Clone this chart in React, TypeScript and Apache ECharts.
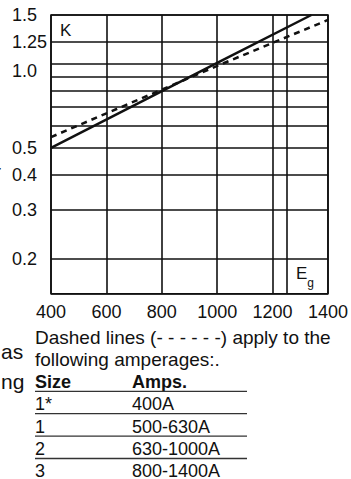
import React, { useEffect, useRef } from 'react';
import * as echarts from 'echarts';

// ---- data ----
const xGridValues = [400, 600, 800, 1000, 1200, 1250, 1400];
const xLabelValues = [400, 600, 800, 1000, 1200, 1400];
const yGridValues = [0.15, 0.2, 0.3, 0.4, 0.5, 0.6, 0.7, 0.8, 0.9, 1.0, 1.2, 1.5];
const yLabelValues = [0.2, 0.3, 0.4, 0.5, 1.0, 1.2, 1.5];
const yLabelTexts = ['0.2', '0.3', '0.4', '0.5', '1.0', '1.25', '1.5'];

const solidX = [400, 1000, 1340];
const solidK = [0.5, 1.01, 1.5];
const dashedX = [400, 1000, 1400];
const dashedK = [0.547, 0.985, 1.44];

const noteLines = ['Dashed lines (- - - - - -) apply to the', 'following amperages:.'];
const tableHeader = ['Size', 'Amps.'];
const sizes = ['1*', '1', '2', '3'];
const amps = ['400A', '500-630A', '630-1000A', '800-1400A'];
const strayTexts = ['r', 'as', 'ng'];

const FONT = '"Liberation Sans", Arial, Helvetica, sans-serif';
const INK = '#111';

export default function App() {
  const ref = useRef<HTMLDivElement>(null);

  useEffect(() => {
    if (!ref.current) return;
    const chart = echarts.init(ref.current, undefined, { renderer: 'svg' });

    const txt = (text: string, x: number, y: number, extra: any = {}) => ({
      type: 'text',
      x,
      y,
      silent: true,
      style: {
        text,
        fill: INK,
        fontFamily: FONT,
        fontSize: 18,
        lineHeight: 16,
        verticalAlign: 'middle',
        align: 'left',
        ...extra,
      },
    });

    const graphic: any[] = [];
    graphic.push(txt('K', 60, 30, { fontSize: 17 }));
    graphic.push({
      type: 'text',
      x: 296,
      y: 265,
      silent: true,
      style: {
        text: '{e|E}{g|g}',
        verticalAlign: 'top',
        align: 'left',
        rich: {
          e: { fontSize: 17, lineHeight: 24, verticalAlign: 'top', fontFamily: FONT, fill: INK },
          g: { fontSize: 12, lineHeight: 12, verticalAlign: 'bottom', fontFamily: FONT, fill: INK },
        },
      },
    });

    // stray fragments from neighbouring page text
    graphic.push(txt(strayTexts[0], -6, 171, { fontSize: 21 }));
    graphic.push(txt(strayTexts[1], 1, 351, { fontSize: 21 }));
    graphic.push(txt(strayTexts[2], 1, 381, { fontSize: 21 }));

    const left = 35;
    const col2 = 132;
    const lineStep = 22.4;
    const y0 = 337;
    noteLines.forEach((t, i) => graphic.push(txt(t, left, y0 + i * lineStep, { fontSize: 19 })));
    const headerY = y0 + 2 * lineStep;
    graphic.push(txt(tableHeader[0], left, headerY, { fontWeight: 'bold' }));
    graphic.push(txt(tableHeader[1], col2, headerY, { fontWeight: 'bold' }));
    const rowYs = [headerY];
    sizes.forEach((s, i) => {
      const y = headerY + (i + 1) * lineStep;
      rowYs.push(y);
      graphic.push(txt(s, left, y));
      graphic.push(txt(amps[i], col2, y));
    });
    for (let i = 0; i < rowYs.length - 1; i++) {
      const ly = rowYs[i] + 9.5;
      graphic.push({
        type: 'line',
        silent: true,
        shape: { x1: left, y1: ly, x2: 247, y2: ly },
        style: { stroke: '#333', lineWidth: 1.3 },
      });
    }

    const option: any = {
      animation: false,
      grid: {
        left: 51,
        top: 15,
        width: 279,
        height: 278.7,
        show: true,
        borderColor: INK,
        borderWidth: 1.6,
        backgroundColor: 'transparent',
      },
      xAxis: {
        type: 'value',
        min: 400,
        max: 1400,
        axisLine: { show: false },
        axisTick: { show: false, customValues: xGridValues },
        splitLine: { show: true, lineStyle: { color: INK, width: 1.6 } },
        axisLabel: {
          customValues: xLabelValues,
          margin: 9,
          fontSize: 18,
          color: INK,
          fontFamily: FONT,
          formatter: (v: number) => String(Math.round(v)),
        },
      },
      yAxis: {
        type: 'log',
        logBase: 10,
        min: 0.15,
        max: 1.5,
        axisLine: { show: false },
        axisTick: { show: false, customValues: yGridValues },
        splitLine: { show: true, lineStyle: { color: INK, width: 1.6 } },
        axisLabel: {
          customValues: yLabelValues,
          align: 'left',
          margin: 39,
          fontSize: 18,
          color: INK,
          fontFamily: FONT,
          rich: {
            low: { fontSize: 18, fontFamily: FONT, color: INK, padding: [14, 0, 0, 0] },
          },
          formatter: (v: number) => {
            const idx = yLabelValues.findIndex((u) => Math.abs(u - v) < 1e-6);
            if (idx < 0) return '';
            const t = yLabelTexts[idx];
            return t === '1.0' ? '{low|' + t + '}' : t;
          },
        },
      },
      series: [
        {
          type: 'line',
          silent: true,
          symbol: 'none',
          data: solidX.map((x, i) => [x, solidK[i]]),
          lineStyle: { color: INK, width: 2.5, type: 'solid' },
        },
        {
          type: 'line',
          silent: true,
          symbol: 'none',
          data: dashedX.map((x, i) => [x, dashedK[i]]),
          lineStyle: { color: INK, width: 2.5, type: [6, 5] },
        },
      ],
      graphic,
    };

    chart.setOption(option);
    return () => chart.dispose();
  }, []);

  return (
    <div
      ref={ref}
      style={{ position: 'fixed', left: 0, top: 0, width: 351, height: 479, background: '#fff' }}
    />
  );
}
